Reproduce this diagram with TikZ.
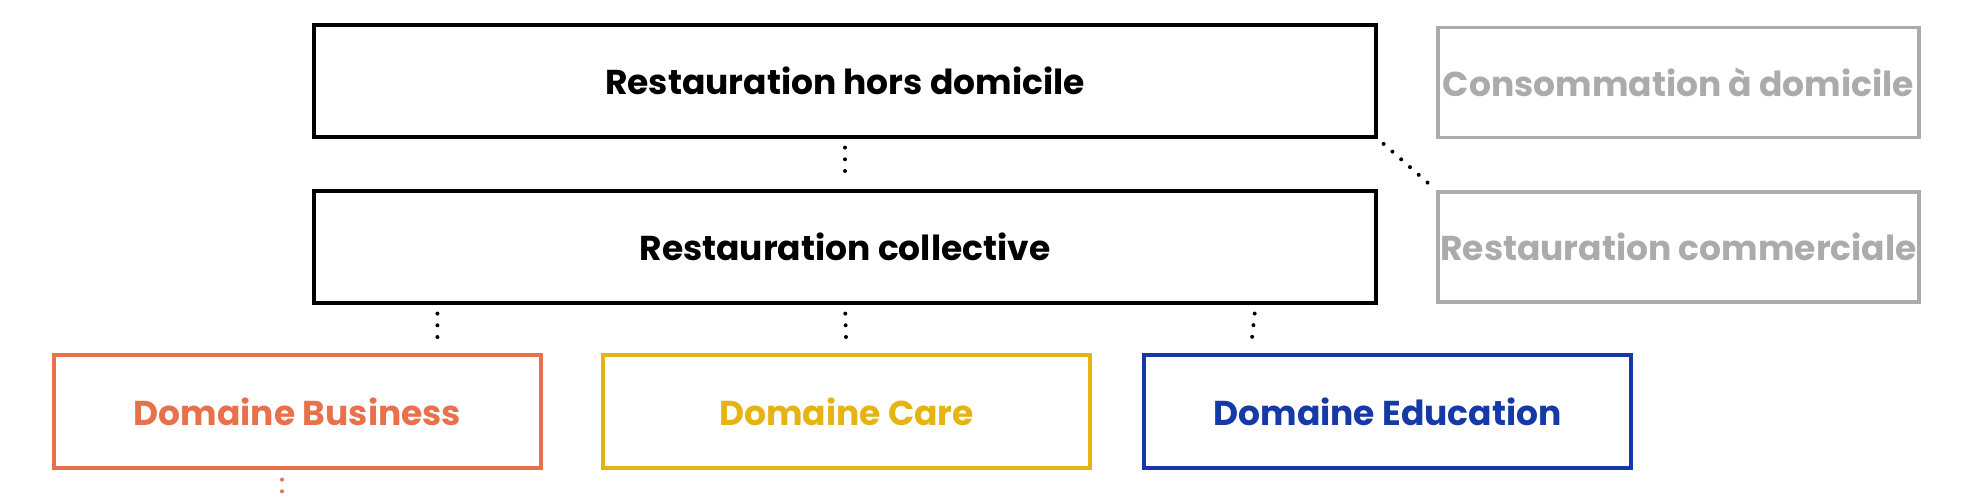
\documentclass[tikz,border=0pt]{standalone}
\usepackage{fontspec}
\setmainfont{Poppins}
\definecolor{bizorange}{HTML}{E8704A}
\definecolor{careyellow}{HTML}{E5B312}
\definecolor{edublue}{HTML}{1539A6}
\definecolor{offgrey}{HTML}{ABABAB}
\tikzset{
  box/.style={draw,line width=3.2pt,minimum width=1062pt,minimum height=112pt,
    inner sep=0pt,font=\fontsize{34.5}{40}\selectfont\bfseries},
  offbox/.style={box,draw=offgrey,text=offgrey,minimum width=481pt,minimum height=110pt},
  dombox/.style={box,minimum width=487pt,minimum height=113pt},
  dots/.style={line width=4pt,line cap=round,dash pattern=on 0pt off 11.7pt}
}
\begin{document}
\begin{tikzpicture}[x=1pt,y=-1pt]
\useasboundingbox (0,0) rectangle (1984,496);

\node[box] (hors) at (845,81) {Restauration hors domicile};
\node[box] (coll) at (845,247) {Restauration collective};
\node[offbox] (dom) at (1678.5,82.5) {Consommation à domicile};
\node[offbox] (comm) at (1678.5,247) {Restauration commerciale};

\node[dombox,draw=bizorange,text=bizorange] (biz) at (297.5,411.5) {Domaine Business};
\node[dombox,draw=careyellow,text=careyellow] (care) at (846.5,411.5) {Domaine Care};
\node[dombox,draw=edublue,text=edublue] (edu) at (1387.5,411.5) {Domaine Education};

\draw[dots,shorten <=9pt,shorten >=8pt] (hors.south) -- (coll.north);
\draw[dots,shorten <=9pt,shorten >=8pt] ([xshift=125pt]coll.south west) -- ([xshift=385pt]biz.north west);
\draw[dots,shorten <=9pt,shorten >=8pt] (coll.south) -- (care.north);
\draw[dots,shorten <=9pt,shorten >=8pt] ([xshift=-122pt]coll.south east) -- ([xshift=108pt]edu.north west);
\draw[dots,shorten <=8pt,shorten >=7pt] (hors.south east) -- (comm.north west);
\coordinate (bizend) at (282,520);
\draw[dots,bizorange,shorten <=10pt] ([xshift=-15.5pt]biz.south) -- (bizend);
\end{tikzpicture}
\end{document}
